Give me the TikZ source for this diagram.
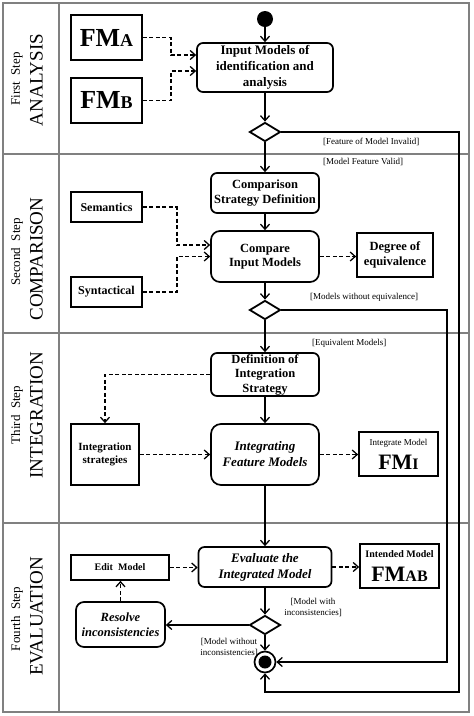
\documentclass[tikz,border=0pt]{standalone}
\usepackage{fontspec}
\setmainfont{Liberation Serif}
\usetikzlibrary{arrows.meta,shapes.geometric}
\definecolor{framegray}{RGB}{128,128,128}
\newcommand{\fmname}[3]{{\bfseries\fontsize{#1}{#1}\selectfont FM}{\bfseries\fontsize{#2}{#2}\selectfont #3}}
\tikzset{
  lane/.style={draw=framegray, line width=2pt},
  act/.style={draw, line width=1.7pt, rounded corners=6pt, align=center,
    font=\bfseries\fontsize{12.5}{14.5}\selectfont, inner sep=1pt},
  obj/.style={draw, line width=1.7pt, align=center, inner sep=1pt},
  dec/.style={draw, diamond, line width=1.8pt, minimum width=31pt, minimum height=19pt, inner sep=0pt, fill=white},
  flow/.style={line width=1.3pt, -{Straight Barb[length=5pt,width=9pt]}},
  dflow/.style={flow, dash pattern=on 4pt off 2.5pt},
  guard/.style={font=\fontsize{9}{11}\selectfont, inner sep=0pt, align=center},
  lbls/.style={rotate=90, font=\fontsize{13}{13}\selectfont, inner sep=0pt},
  lblb/.style={rotate=90, font=\fontsize{19}{19}\selectfont, inner sep=0pt},
}
\begin{document}
\begin{tikzpicture}[x=1pt,y=-1pt]
\useasboundingbox (0,0) rectangle (474,716);
% frame
\draw[lane] (3,3) rectangle (469,712);
\draw[lane] (59,3) -- (59,712);
\draw[lane] (3,154) -- (469,154);
\draw[lane] (3,333) -- (469,333);
\draw[lane] (3,523) -- (469,523);
% lane labels
\node[lbls] (l1a) at (17,79) {First\ \ Step};
\node[lblb] (l1b) at (36.5,80) {ANALYSIS};
\node[lbls] (l2a) at (17,252) {Second\ \ Step};
\node[lblb] (l2b) at (36.5,259) {COMPARISON};
\node[lbls] (l3a) at (17,415) {Third\ \ Step};
\node[lblb] (l3b) at (36.5,415) {INTEGRATION};
\node[lbls] (l4a) at (17,619) {Fourth\ \ Step};
\node[lblb] (l4b) at (36.5,616.5) {EVALUATION};

% ---- Lane 1
\node[circle, fill=black, minimum size=16pt, inner sep=0pt] (start) at (265,19) {};
\node[act, minimum width=136pt, minimum height=49pt, font=\bfseries\fontsize{13}{16}\selectfont] (inputm) at (265,67.5) {Input Models of\\identification and\\analysis};
\node[obj, minimum width=71pt, minimum height=45pt] (fma) at (106.5,37.5) {\fmname{26}{18}{A}};
\node[obj, minimum width=71pt, minimum height=45pt] (fmb) at (106.5,100.5) {\fmname{26}{18}{B}};
\node[dec] (d1) at (265,132) {};
\draw[flow] (start) -- (inputm);
\draw[flow] (inputm) -- (d1);
\draw[dflow] (fma.east) -- ++(28,0) |- ([yshift=12.5pt]inputm.west);
\draw[dflow] (fmb.east) -- ++(28,0) |- ([yshift=-3.5pt]inputm.west);
\node[guard, anchor=west] (g1) at (323,142) {[Feature of Model Invalid]};
\node[guard, anchor=west] (g2) at (323,162) {[Model Feature Valid]};

% ---- Lane 2
\node[act, minimum width=108pt, minimum height=40pt] (csd) at (265,193) {Comparison\\Strategy Definition};
\node[act, minimum width=108pt, minimum height=51pt, rounded corners=9pt] (cim) at (265,256.5) {Compare\\Input Models};
\node[obj, minimum width=71pt, minimum height=30pt, font=\bfseries\fontsize{12}{14}\selectfont] (sem) at (106.5,207) {Semantics};
\node[obj, minimum width=71pt, minimum height=30pt, font=\bfseries\fontsize{12}{14}\selectfont] (syn) at (106.5,292) {Syntactical};
\node[obj, minimum width=76pt, minimum height=44pt, font=\bfseries\fontsize{12.5}{15}\selectfont] (deg) at (395,255) {Degree of\\equivalence};
\node[dec] (d2) at (265,310) {};
\draw[flow] (d1) -- (csd);
\draw[flow] (csd) -- (cim);
\draw[flow] (cim) -- (d2);
\draw[dflow] (sem.east) -- ++(34,0) |- ([yshift=11.5pt]cim.west);
\draw[dflow] (syn.east) -- ++(34,0) |- (cim.west);
\draw[dflow] (cim.east) -- (cim.east -| deg.west);
\node[guard, anchor=west] (g3) at (310,297) {[Models without equivalence]};
\node[guard, anchor=west] (g4) at (312,343) {[Equivalent Models]};

% ---- Lane 3
\node[act, minimum width=108pt, minimum height=43pt, inner sep=0pt] (dis) at (265,374.5) {Definition of\\Integration\\Strategy};
\node[obj, minimum width=68pt, minimum height=61pt, font=\bfseries\fontsize{11}{13.5}\selectfont] (intstr) at (105,454.5) {Integration\\strategies};
\node[act, minimum width=108pt, minimum height=61pt, rounded corners=10pt, font=\bfseries\itshape\fontsize{13}{16}\selectfont] (ifm) at (265,454.5) {Integrating\\Feature Models};
\node[obj, minimum width=79pt, minimum height=44pt, font=\fontsize{22}{24}\selectfont] (fmi) at (398.5,454) {{\fontsize{9}{10}\selectfont Integrate Model}\\\fmname{22}{16}{I}};
\draw[flow] (d2) -- (dis);
\draw[flow] (dis) -- (ifm);
\draw[dflow] (dis.west) -| (intstr.north);
\draw[dflow] (intstr.east) -- (intstr.east -| ifm.west);
\draw[dflow] (ifm.east) -- (ifm.east -| fmi.west);

% ---- Lane 4
\node[act, minimum width=133pt, minimum height=40pt, font=\bfseries\itshape\fontsize{13}{16}\selectfont] (eval) at (265,567) {Evaluate the\\Integrated Model};
\node[obj, minimum width=98pt, minimum height=25pt, font=\bfseries\fontsize{10}{12}\selectfont] (edit) at (120,567.5) {Edit\ \ Model};
\node[obj, minimum width=79pt, minimum height=44pt, font=\fontsize{22}{24}\selectfont] (fmab) at (399.5,566) {{\bfseries\fontsize{10}{11}\selectfont Intended Model}\\\fmname{22}{16}{AB}};
\node[dec] (d3) at (265,625) {};
\node[act, minimum width=89pt, minimum height=45pt, rounded corners=8pt, font=\bfseries\itshape\fontsize{12.5}{14.5}\selectfont] (resolve) at (120.5,624.5) {Resolve\\inconsistencies};
\node[circle, draw, line width=1.7pt, minimum size=21pt, inner sep=0pt, fill=white] (final) at (265,662) {};
\node[circle, fill=black, minimum size=13pt, inner sep=0pt] (finalin) at (final) {};
\draw[flow] (ifm) -- (eval);
\draw[flow] (eval) -- (d3);
\draw[flow] (d3) -- (final);
\draw[flow] (d3.west) -- (d3.west -| resolve.east);
\draw[dflow] (resolve.north) -- (resolve.north |- edit.south);
\draw[dflow] (edit.east) -- (edit.east -| eval.west);
\draw[dflow] (eval.east) -- (eval.east -| fmab.west);
\node[guard] (g5) at (313,607.5) {[Model with\\inconsistencies]};
\node[guard] (g6) at (229,647.5) {[Model without\\inconsistencies]};

% ---- loops to final
\coordinate (c1) at (459,692);
\coordinate (c2) at (447,662);
\draw[flow] (d1.east) -| (c1) -| (final.south);
\draw[flow] (d2.east) -| (c2) -- (final.east);
\end{tikzpicture}
\end{document}
